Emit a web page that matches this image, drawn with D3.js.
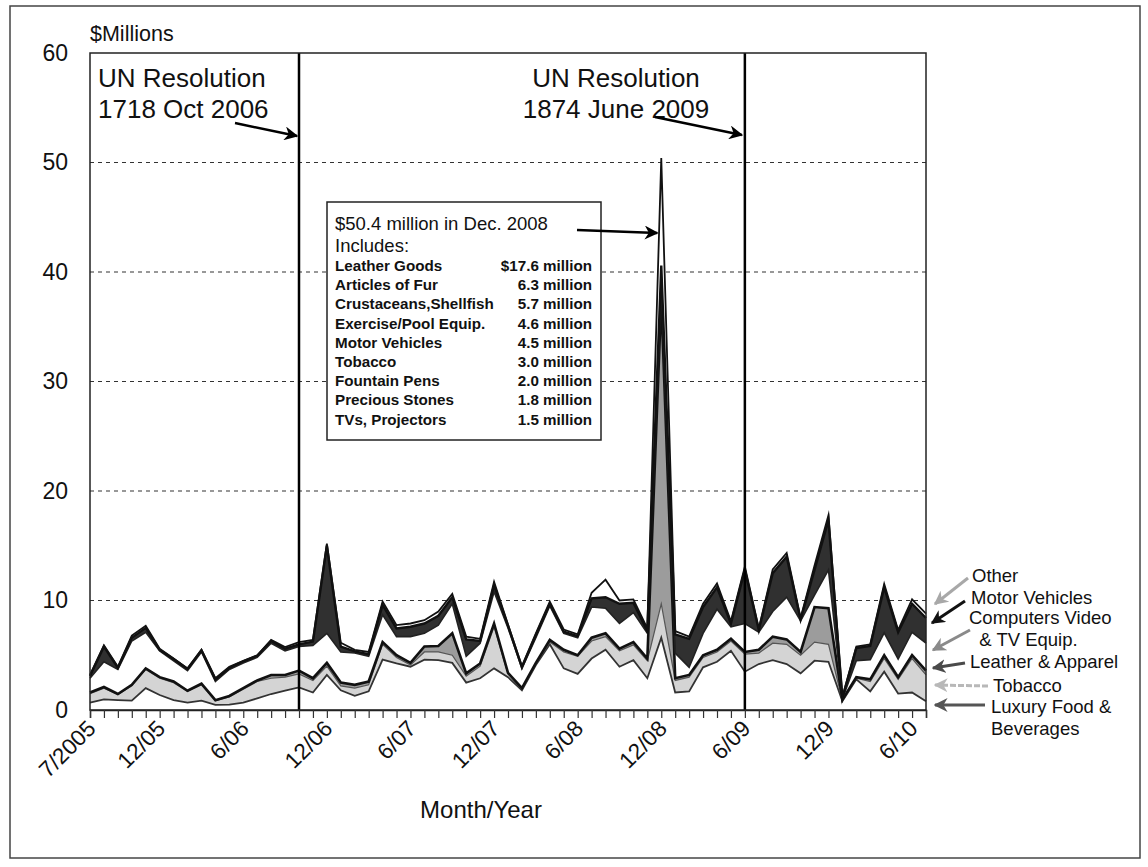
<!DOCTYPE html>
<html><head><meta charset="utf-8">
<script src="https://cdn.jsdelivr.net/npm/d3@7"></script>
<style>body{margin:0;background:#fff} text{font-family:"Liberation Sans",Arial,Helvetica,sans-serif;fill:#111}</style>
</head><body><svg id="c" width="1148" height="867"></svg>
<script>
// ---------------- DATA ----------------
const seriesKeys = ["luxury","tobacco","leather","computers","motor","other"];
const seriesLabels = ["Luxury Food & Beverages","Tobacco","Leather & Apparel","Computers Video & TV Equip.","Motor Vehicles","Other"];
// monthly values, $ millions, 7/2005 .. 7/2010
const luxury    = [0.67,0.97,0.9,0.85,2.0,1.37,0.9,0.67,0.85,0.46,0.5,0.67,1.06,1.46,1.76,2.07,1.6,3.2,1.8,1.3,1.7,4.6,4.25,3.95,4.6,4.55,4.3,2.5,2.9,3.8,3.0,1.8,4.1,6.0,3.8,3.3,4.7,5.5,3.95,4.55,2.9,6.6,1.6,1.7,3.9,4.4,5.4,3.5,4.2,4.55,4.2,3.35,4.5,4.4,0.8,2.8,1.7,3.5,1.5,1.6,0.8];
const tobacco   = [0.83,1.03,0.5,1.35,1.7,1.53,1.6,1.03,1.45,0.39,0.7,1.23,1.54,1.44,1.24,1.23,1.1,0.8,0.4,0.7,0.6,1.4,0.55,0.15,0.7,0.75,0.7,0.6,1.1,3.8,0.3,0.15,0.1,0.2,1.5,1.6,1.6,1.2,1.45,1.4,1.6,3.1,1.1,1.3,0.9,0.9,0.9,1.6,1.0,1.55,1.8,1.65,1.7,1.6,0.1,0.1,0.9,1.2,1.3,3.1,2.4];
const leather   = [0.1,0.1,0.06,0.1,0.1,0.1,0.1,0.06,0.1,0.05,0.08,0.1,0.1,0.3,0.2,0.3,0.2,0.3,0.3,0.3,0.3,0.2,0.2,0.2,0.5,0.55,2.0,0.25,0.25,0.3,0.1,0.05,0.1,0.2,0.2,0.1,0.3,0.3,0.2,0.25,0.2,27.8,0.2,0.2,0.2,0.2,0.2,0.2,0.3,0.6,0.45,0.3,3.2,3.3,0.05,0.1,0.2,0.3,0.2,0.3,0.4];
const computers = [1.3,2.3,2.24,4.0,3.3,2.4,1.9,1.84,2.9,1.7,2.42,2.3,2.1,2.9,2.2,2.2,3.0,2.7,2.8,2.9,2.3,2.5,1.7,2.4,1.2,1.9,2.7,1.55,1.85,2.9,4.1,1.8,2.3,3.1,1.5,1.6,2.8,2.3,2.3,2.7,2.3,1.3,2.3,0.7,2.0,3.7,1.1,2.6,1.6,2.3,3.85,2.85,1.1,3.5,0.05,1.5,1.8,2.05,1.65,2.1,2.5];
const motor     = [0.2,1.4,0.15,0.3,0.4,0.1,0.15,0.15,0.15,0.2,0.15,0.15,0.15,0.2,0.2,0.2,0.35,8.0,0.48,0.15,0.2,0.9,0.75,0.9,0.9,0.85,0.6,1.55,0.2,0.6,0.2,0.1,0.25,0.2,0.15,0.15,0.8,1.0,1.8,0.9,0.2,1.8,1.7,2.6,2.4,2.0,0.3,4.9,0.2,3.5,3.7,0.1,2.3,4.55,0.1,1.15,1.25,4.15,2.45,2.6,2.3];
const other     = [0.1,0.1,0.1,0.2,0.2,0.1,0.05,0.05,0.05,0.1,0.1,0.05,0.05,0.1,0.15,0.2,0.15,0.2,0.36,0.15,0.2,0.3,0.3,0.3,0.3,0.4,0.3,0.25,0.2,0.3,0.1,0.1,0.15,0.2,0.2,0.15,0.5,1.6,0.3,0.3,0.25,9.8,0.3,0.2,0.3,0.35,0.2,0.3,0.15,0.35,0.35,0.15,0.4,0.45,0.1,0.15,0.15,0.3,0.2,0.4,0.4];

const tickMonths = ["2005-07","2005-12","2006-06","2006-12","2007-06","2007-12","2008-06","2008-12","2009-06","2009-12","2010-06"];
const tickLabels = ["7/2005","12/05","6/06","12/06","6/07","12/07","6/08","12/08","6/09","12/9","6/10"];
const yTicks = [0,10,20,30,40,50,60];
const gridValues = [10,20,30,40,50];
const eventMonths = ["2006-10","2009-06"];
const eventText = [["UN Resolution","1718 Oct 2006"],["UN Resolution","1874 June 2009"]];
const boxTitle = ["$50.4 million in Dec. 2008","Includes:"];
const boxItemNames  = ["Leather Goods","Articles of Fur","Crustaceans,Shellfish","Exercise/Pool Equip.","Motor Vehicles","Tobacco","Fountain Pens","Precious Stones","TVs, Projectors"];
const boxItemValues = ["$17.6 million","6.3 million","5.7 million","4.6 million","4.5 million","3.0 million","2.0 million","1.8 million","1.5 million"];
const legendLines = [["Other"],["Motor Vehicles"],["Computers Video","  & TV Equip."],["Leather & Apparel"],["Tobacco"],["Luxury Food &","Beverages"]];

// ---------------- BUILD ----------------
const fmt = d3.utcFormat("%Y-%m");
const months = d3.utcMonth.range(new Date(Date.UTC(2005,6,1)), new Date(Date.UTC(2010,7,1))).map(fmt);
const valueArrays = [luxury,tobacco,leather,computers,motor,other];
const rows = months.map((m,i)=>{const r={month:m}; seriesKeys.forEach((k,j)=>r[k]=valueArrays[j][i]); return r;});

const svg = d3.select("#c");
const X0=90, X1=926, Y0=53, Y1=710;
const x = d3.scalePoint().domain(months).range([X0,X1]);
const y = d3.scaleLinear().domain([0,60]).range([Y1,Y0]);

// outer frame
svg.append("rect").attr("x",10).attr("y",6).attr("width",1130).attr("height",852)
  .attr("fill","#fff").attr("stroke","#444").attr("stroke-width",1.5);

// gridlines
svg.append("g").selectAll("line").data(gridValues).join("line")
  .attr("x1",X0).attr("x2",X1).attr("y1",d=>y(d)).attr("y2",d=>y(d))
  .attr("stroke","#333").attr("stroke-width",1.2).attr("stroke-dasharray","4,4");

// stacked areas
const stack = d3.stack().keys(seriesKeys);
const layers = stack(rows);
const fills = {luxury:"#ffffff",tobacco:"#d4d4d4",leather:"#9c9c9c",computers:"#ffffff",motor:"#303030",other:"#ffffff"};
const area = d3.area().x(d=>x(d.data.month)).y0(d=>y(d[0])).y1(d=>y(d[1]));
svg.append("g").selectAll("path").data(layers).join("path")
  .attr("d",area).attr("fill",d=>fills[d.key]);
const lineW = {luxury:1.8,tobacco:1.2,leather:2.6,computers:1.6,motor:2.4,other:1.8};
const lineC = {luxury:"#333",tobacco:"#555",leather:"#111",computers:"#222",motor:"#111",other:"#111"};
const topLine = d3.line().x(d=>x(d.data.month)).y(d=>y(d[1]));
svg.append("g").selectAll("path").data(layers).join("path")
  .attr("d",topLine).attr("fill","none").attr("stroke",d=>lineC[d.key])
  .attr("stroke-width",d=>lineW[d.key]).attr("stroke-linejoin","miter").attr("stroke-miterlimit",6);

// event lines
svg.append("g").selectAll("line").data(eventMonths).join("line")
  .attr("x1",d=>x(d)).attr("x2",d=>x(d)).attr("y1",Y0).attr("y2",Y1)
  .attr("stroke","#000").attr("stroke-width",2.5);

// plot frame
svg.append("rect").attr("x",X0).attr("y",Y0).attr("width",X1-X0).attr("height",Y1-Y0)
  .attr("fill","none").attr("stroke","#222").attr("stroke-width",1.5);

// x axis ticks
const xAxis = d3.axisBottom(x).tickSize(8).tickFormat("");
const gx = svg.append("g").attr("transform",`translate(0,${Y1})`).call(xAxis);
gx.select(".domain").attr("stroke","#222").attr("stroke-width",1.5);
gx.selectAll(".tick line").attr("stroke","#333").attr("stroke-width",1.2);
svg.append("g").selectAll("text").data(tickMonths).join("text")
  .attr("transform",d=>`translate(${x(d)+7},${Y1+20}) rotate(-45)`)
  .attr("text-anchor","end").attr("font-size",22.5).text((d,i)=>tickLabels[i]);

// y axis
const yAxis = d3.axisLeft(y).tickValues(yTicks).tickSize(0).tickPadding(22);
const gy = svg.append("g").attr("transform",`translate(${X0},0)`).call(yAxis);
gy.select(".domain").remove();
gy.selectAll("text").attr("font-size",23).attr("font-family","Liberation Sans, Arial, sans-serif").attr("fill","#111");

svg.append("text").attr("x",90).attr("y",41).attr("font-size",21.5).text("$Millions");
svg.append("text").attr("x",481).attr("y",818).attr("text-anchor","middle").attr("font-size",24).text("Month/Year");

// markers
const defs = svg.append("defs");
function marker(id,color,size){
  defs.append("marker").attr("id",id).attr("viewBox","0 0 10 10").attr("refX",9).attr("refY",5)
    .attr("markerWidth",size).attr("markerHeight",size).attr("orient","auto").attr("markerUnits","userSpaceOnUse")
    .append("path").attr("d","M0,0 L10,5 L0,10 L3,5 Z").attr("fill",color);
}
marker("mk","#000",14);

// event labels
const evPos = [{x:98,anchor:"start"},{x:616,anchor:"middle"}];
eventText.forEach((lines,k)=>{
  lines.forEach((t,j)=>svg.append("text").attr("x",evPos[k].x).attr("y",87+j*31)
    .attr("text-anchor",evPos[k].anchor).attr("font-size",26).text(t));
});
const arrow = (x1,y1,x2,y2,color,w,mk,dash)=>svg.append("line").attr("x1",x1).attr("y1",y1).attr("x2",x2).attr("y2",y2)
  .attr("stroke",color).attr("stroke-width",w).attr("marker-end",`url(#${mk})`).attr("stroke-dasharray",dash||null);
arrow(235,123,x(eventMonths[0])-2,136,"#000",2.5,"mk");
arrow(655,117,x(eventMonths[1])-3,135,"#000",2.5,"mk");

// annotation box
svg.append("rect").attr("x",327).attr("y",202).attr("width",274).attr("height",238)
  .attr("fill","#fff").attr("stroke","#222").attr("stroke-width",1.5);
boxTitle.forEach((t,j)=>svg.append("text").attr("x",335).attr("y",230+j*22).attr("font-size",18.5).text(t));
boxItemNames.forEach((t,j)=>{
  svg.append("text").attr("x",335).attr("y",271+j*19.2).attr("font-size",15.2).attr("font-weight","bold").text(t);
  svg.append("text").attr("x",592).attr("y",271+j*19.2).attr("text-anchor","end").attr("font-size",15.2).attr("font-weight","bold").text(boxItemValues[j]);
});
arrow(577,230,x("2008-12")-4,233,"#000",2.5,"mk");

// right-side legend
const legColors = ["#a8a8a8","#111","#8a8a8a","#4a4a4a","#b8b8b8","#555"];
legColors.forEach((c,i)=>marker("lm"+i,c,14));
const legPos = [
  {tx:972,ty:582,ax1:968,ay1:578,ax2:935,ay2:604},
  {tx:971,ty:604,ax1:965,ay1:601,ax2:932,ay2:623},
  {tx:969,ty:624,ax1:970,ay1:630,ax2:933,ay2:650},
  {tx:970,ty:668,ax1:965,ay1:663,ax2:933,ay2:668},
  {tx:993,ty:692,ax1:988,ay1:686,ax2:935,ay2:685},
  {tx:991,ty:713,ax1:985,ay1:705,ax2:935,ay2:705}
];
legendLines.forEach((lines,i)=>{
  const p = legPos[i];
  lines.forEach((t,j)=>svg.append("text").attr("x",p.tx).attr("y",p.ty+j*22).attr("font-size",18.5).style("white-space","pre").text(t));
  arrow(p.ax1,p.ay1,p.ax2,p.ay2,legColors[i],3,"lm"+i, i===4?"6,2":null);
});
</script></body></html>
